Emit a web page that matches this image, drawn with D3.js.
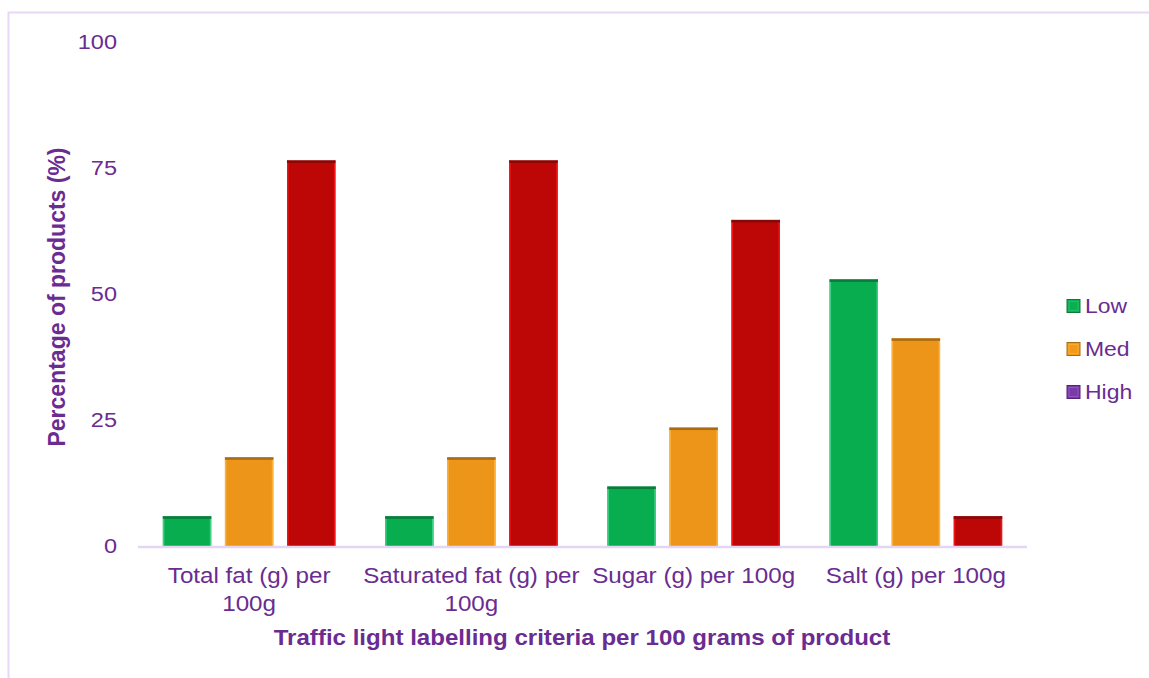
<!DOCTYPE html>
<html>
<head>
<meta charset="utf-8">
<script src="https://cdn.jsdelivr.net/npm/d3@7"></script>
<style>
  html, body { margin: 0; padding: 0; background: #fff; }
  svg { display: block; font-family: Arial, "Liberation Sans", sans-serif; }
</style>
</head>
<body>
<svg id="chart" width="1149" height="678"></svg>
<script>
// Share of products (%) rated Low / Med / High for each traffic-light criterion
const categories = [
  ["Total fat (g) per", "100g"],
  ["Saturated fat (g) per", "100g"],
  ["Sugar (g) per 100g"],
  ["Salt (g) per 100g"]
];
const series = ["Low", "Med", "High"];
const lowValues  = [5.9, 5.9, 11.8, 52.9];
const medValues  = [17.6, 17.6, 23.5, 41.2];
const highValues = [76.5, 76.5, 64.7, 5.9];
const yTicks = [0, 25, 50, 75, 100];
const xTitle = "Traffic light labelling criteria per 100 grams of product";
const yTitle = "Percentage of products (%)";

const valuesBySeries = { Low: lowValues, Med: medValues, High: highValues };
const textColor = "#6a2c91";
const wide = 1.12; // horizontal widening applied to the text

// Bar fills with a darker top cap and lighter side edges
const barStyle = {
  Low:  { fill: "#08ad50", top: "#0b7a3c", edge: "#3fcf82" },
  Med:  { fill: "#ec9518", top: "#a86c16", edge: "#fbb13a" },
  High: { fill: "#bd0706", top: "#860909", edge: "#f01414" }
};
const legendStyle = {
  Low:  { fill: "#0aaf52", top: "#0b7a3c", edge: "#30c070" },
  Med:  { fill: "#f09a18", top: "#a86c16", edge: "#fbb13a" },
  High: { fill: "#7a3aa8", top: "#552079", edge: "#9a5cc6" }
};

const svg = d3.select("#chart");

// outer frame
svg.append("rect")
  .attr("x", 8.5).attr("y", 12.5)
  .attr("width", 1160).attr("height", 700)
  .attr("fill", "none").attr("stroke", "#e8d8f6").attr("stroke-width", 2);

const x0 = d3.scaleBand()
  .domain(d3.range(categories.length))
  .range([138, 1027])
  .padding(0);

const x1 = d3.scaleBand()
  .domain(series)
  .range([0, x0.bandwidth()])
  .paddingInner(0.22)
  .paddingOuter(0.40);

const y = d3.scaleLinear().domain([0, 100]).range([546, 42]);

// y-axis tick labels
const yAxis = d3.axisLeft(y).tickValues(yTicks).tickSize(0).tickPadding(0);
const gy = svg.append("g").attr("transform", "translate(117,0)").call(yAxis);
gy.select(".domain").remove();
gy.selectAll("text")
  .attr("x", 0)
  .attr("transform", `scale(${wide},1)`)
  .attr("fill", textColor)
  .style("font-size", "21px")
  .style("font-family", "Arial, 'Liberation Sans', sans-serif");

// bars
const groups = svg.append("g").selectAll("g")
  .data(categories.map((c, i) => i))
  .join("g")
  .attr("transform", i => `translate(${x0(i)},0)`);

groups.each(function(i) {
  const g = d3.select(this);
  series.forEach(s => {
    const v = valuesBySeries[s][i];
    const st = barStyle[s];
    const bx = x1(s), bw = x1.bandwidth();
    const top = y(v), h = y(0) - y(v);
    g.append("rect").attr("x", bx).attr("y", top).attr("width", bw).attr("height", h)
      .attr("fill", st.fill);
    g.append("rect").attr("x", bx).attr("y", top).attr("width", 1.5).attr("height", h)
      .attr("fill", st.edge);
    g.append("rect").attr("x", bx + bw - 1.5).attr("y", top).attr("width", 1.5).attr("height", h)
      .attr("fill", st.edge);
    g.append("rect").attr("x", bx).attr("y", top).attr("width", bw).attr("height", 2.5)
      .attr("fill", st.top);
  });
});

// baseline
svg.append("line")
  .attr("x1", 138).attr("x2", 1027)
  .attr("y1", y(0) + 1).attr("y2", y(0) + 1)
  .attr("stroke", "#e4d6f2").attr("stroke-width", 2.5);

// category labels
const xl = svg.append("g");
categories.forEach((lines, i) => {
  const cx = x0(i) + x0.bandwidth() / 2;
  const t = xl.append("text")
    .attr("transform", `translate(${cx},583) scale(${wide},1)`)
    .attr("text-anchor", "middle")
    .attr("fill", textColor)
    .style("font-size", "21.6px");
  lines.forEach((ln, k) => {
    t.append("tspan").attr("x", 0).attr("dy", k === 0 ? 0 : 28).text(ln);
  });
});

// axis titles
svg.append("text")
  .attr("transform", `translate(582,645) scale(${wide},1)`)
  .attr("text-anchor", "middle")
  .attr("fill", textColor)
  .style("font-size", "21.5px").style("font-weight", "bold")
  .text(xTitle);

svg.append("text")
  .attr("transform", "translate(65,297) rotate(-90)")
  .attr("text-anchor", "middle")
  .attr("fill", textColor)
  .style("font-size", "23px").style("font-weight", "bold")
  .text(yTitle);

// legend
const legend = svg.append("g").attr("transform", "translate(1067,0)");
series.forEach((s, k) => {
  const cy = 306 + k * 43;
  const st = legendStyle[s];
  legend.append("rect").attr("x", 0).attr("y", cy - 6.5).attr("width", 13).attr("height", 13)
    .attr("fill", st.fill).attr("stroke", st.top).attr("stroke-width", 1);
  legend.append("rect").attr("x", 2).attr("y", cy - 4.5).attr("width", 9).attr("height", 9)
    .attr("fill", "none").attr("stroke", st.edge).attr("stroke-width", 0.8);
  legend.append("text")
    .attr("transform", `translate(18,${cy}) scale(${wide},1)`)
    .attr("dy", "0.35em")
    .attr("fill", textColor)
    .style("font-size", "20.5px")
    .text(s);
});
</script>
</body>
</html>
